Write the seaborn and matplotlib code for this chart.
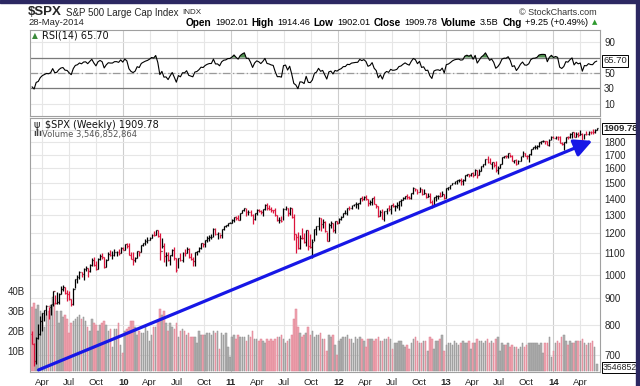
import numpy as np
import pandas as pd
import matplotlib
matplotlib.use("Agg")
import matplotlib.pyplot as plt
import matplotlib.dates as mdates
import matplotlib.transforms as mtrans
import seaborn as sns

warm_close = [1388.28, 1425.35, 1375.93, 1400.38, 1360.68, 1360.03, 1317.93, 1278.38, 1262.90, 1239.49,
              1260.68, 1257.76, 1260.31, 1296.32, 1298.20, 1292.20, 1282.83, 1242.31, 1251.70, 1255.08,
              1213.27, 1099.23, 899.22, 940.55, 876.77, 968.75, 930.99, 873.29, 800.03, 896.24,
              876.07, 879.73, 887.88, 872.80, 931.80, 890.35, 850.12, 831.95, 825.88, 868.60,
              826.84, 770.05]

close09 = [735.09, 683.38, 756.55, 768.54, 815.94, 842.50, 856.56, 869.60, 866.23, 877.52, 929.23, 882.88,
           887.00, 919.14, 940.09, 946.21, 921.23, 918.90, 896.42, 879.13, 940.38, 979.26, 987.48, 1010.48,
           1004.09, 1026.13, 1028.93, 1016.40, 1042.73, 1068.30, 1044.38, 1025.21, 1071.49, 1087.68, 1079.60,
           1036.19, 1069.30, 1093.48, 1091.38, 1091.49, 1105.98, 1106.41, 1102.47, 1126.48, 1115.10]
high09 = [779.4, 739.9, 758.3, 804.5, 832.9, 845.6, 856.6, 875.6, 868.3, 877.6, 930.2, 915.6, 924.6, 920.0,
          951.7, 956.2, 946.0, 934.8, 931.9, 898.6, 943.0, 979.8, 996.7, 1018.0, 1013.1, 1027.6, 1039.5,
          1028.1, 1048.2, 1074.8, 1080.2, 1063.4, 1075.0, 1096.6, 1101.4, 1081.9, 1071.5, 1105.4, 1113.7,
          1112.4, 1119.7, 1110.7, 1117.7, 1130.4, 1130.0]
low09 = [734.5, 666.8, 672.9, 751.0, 766.0, 779.8, 814.5, 836.0, 822.8, 836.3, 872.0, 878.9, 879.6, 880.0,
         917.0, 930.0, 916.1, 888.9, 895.4, 869.3, 875.3, 940.8, 965.8, 982.4, 990.0, 978.5, 1015.0, 991.0,
         1012.6, 1040.0, 1039.5, 1019.0, 1025.2, 1066.0, 1072.0, 1029.4, 1033.4, 1067.0, 1085.0, 1070.0,
         1087.0, 1085.9, 1091.0, 1100.0, 1114.8]
vol09 = [32, 34, 31, 33, 30, 29, 22, 28, 30, 33, 37, 34, 30, 24, 30, 27, 28, 26, 19, 24, 25, 26, 27, 28,
         26, 27, 25, 22, 20, 26, 24, 23, 20, 23, 24, 25, 23, 20, 21, 12, 21, 21, 24, 13, 9]

close10 = [1144.98, 1136.03, 1091.76, 1073.87, 1066.19, 1075.51, 1109.17, 1104.49, 1138.70, 1149.99,
           1159.90, 1166.59, 1178.10, 1194.37, 1192.13, 1217.28, 1186.69, 1110.88, 1135.68, 1087.69,
           1089.41, 1064.88, 1091.60, 1117.51, 1076.76, 1022.58, 1077.96, 1064.88, 1102.66, 1101.60,
           1121.64, 1079.25, 1071.69, 1064.59, 1104.51, 1109.55, 1125.59, 1148.67, 1146.24, 1165.15,
           1176.19, 1183.08, 1183.26, 1225.85, 1199.21, 1199.73, 1189.40, 1224.71, 1240.40, 1243.91,
           1256.77, 1257.64]
high10 = [1145.4, 1150.4, 1150.4, 1103.7, 1104.7, 1080.0, 1112.4, 1112.4, 1139.0, 1150.0, 1169.2, 1180.7,
          1181.4, 1194.7, 1214.0, 1217.3, 1219.8, 1205.0, 1173.6, 1148.7, 1104.0, 1105.7, 1092.0, 1119.0,
          1131.2, 1076.4, 1078.0, 1099.1, 1103.0, 1120.0, 1129.2, 1127.3, 1100.1, 1081.0, 1105.0, 1110.9,
          1131.5, 1148.9, 1151.4, 1167.7, 1184.4, 1189.4, 1196.1, 1227.1, 1227.1, 1207.4, 1198.7, 1225.6,
          1240.5, 1246.7, 1259.3, 1262.6]
low10 = [1115.0, 1127.0, 1090.0, 1071.6, 1044.5, 1056.5, 1075.0, 1086.0, 1105.0, 1135.0, 1141.0, 1152.0,
         1165.0, 1175.0, 1187.0, 1190.0, 1181.0, 1065.8, 1125.0, 1055.9, 1040.8, 1060.0, 1042.2, 1084.0,
         1067.0, 1010.9, 1028.0, 1060.0, 1056.9, 1088.0, 1102.0, 1076.0, 1069.0, 1039.7, 1040.9, 1091.0,
         1107.0, 1122.0, 1131.0, 1131.9, 1155.7, 1159.7, 1171.7, 1181.0, 1194.0, 1173.0, 1176.0, 1174.0,
         1218.0, 1232.0, 1240.0, 1254.0]
vol10 = [20, 21, 22, 25, 25, 22, 18, 20, 19, 19, 22, 20, 15, 18, 22, 22, 25, 31, 28, 30, 24, 20, 24, 22,
         21, 24, 17, 20, 21, 20, 18, 19, 17, 17, 17, 14, 20, 18, 18, 18, 19, 19, 18, 20, 19, 20, 11, 19,
         18, 19, 12, 7]

close11 = [1271.50, 1293.24, 1283.35, 1276.34, 1310.87, 1329.15, 1343.01, 1319.88, 1321.15, 1304.28,
           1279.21, 1313.80, 1332.41, 1328.17, 1319.68, 1337.38, 1363.61, 1340.20, 1337.77, 1333.27,
           1331.10, 1300.16, 1270.98, 1271.50, 1268.45, 1339.67, 1343.80, 1316.14, 1345.02, 1292.28,
           1199.38, 1178.81, 1123.53, 1176.80, 1173.97, 1154.23, 1216.01, 1136.43, 1131.42, 1155.46,
           1224.58, 1238.25, 1285.09, 1253.23, 1263.85, 1215.65, 1158.67, 1244.28, 1255.19, 1219.66,
           1265.33, 1257.60]
high11 = [1278.2, 1293.3, 1296.1, 1302.7, 1311.0, 1330.8, 1344.1, 1342.0, 1332.3, 1330.0, 1305.0, 1315.0,
          1337.8, 1339.5, 1330.0, 1337.5, 1364.6, 1370.6, 1359.4, 1346.8, 1334.0, 1345.2, 1299.6, 1292.5,
          1298.6, 1341.0, 1356.5, 1345.0, 1347.0, 1345.0, 1307.4, 1198.0, 1208.5, 1190.7, 1230.7, 1204.4,
          1220.4, 1220.4, 1195.9, 1171.4, 1224.6, 1238.3, 1292.7, 1285.1, 1277.6, 1266.0, 1208.5, 1255.0,
          1267.1, 1255.0, 1265.4, 1269.4]
low11 = [1257.6, 1262.0, 1271.3, 1275.1, 1276.0, 1311.0, 1323.0, 1294.3, 1302.6, 1294.3, 1249.1, 1275.0,
         1303.0, 1322.0, 1309.0, 1294.7, 1331.0, 1329.2, 1329.0, 1318.5, 1311.8, 1297.0, 1268.0, 1258.1,
         1262.9, 1272.0, 1331.0, 1295.9, 1304.0, 1282.9, 1168.1, 1101.5, 1121.1, 1121.1, 1170.0, 1150.0,
         1136.2, 1114.2, 1127.0, 1074.8, 1163.0, 1191.5, 1221.0, 1215.4, 1226.6, 1209.0, 1158.0, 1158.7,
         1231.0, 1209.5, 1202.4, 1248.6]
vol11 = [17, 18, 16, 18, 17, 17, 17, 15, 18, 17, 20, 16, 16, 15, 16, 15, 14, 16, 15, 16, 15, 16, 17, 17,
         18, 16, 14, 15, 16, 18, 26, 31, 22, 19, 17, 18, 19, 22, 18, 20, 17, 18, 18, 19, 16, 16, 10, 18,
         17, 18, 13, 8]

close12 = [1277.81, 1289.09, 1315.38, 1316.33, 1344.90, 1342.64, 1361.23, 1365.74, 1369.63, 1370.87,
           1404.17, 1397.11, 1408.47, 1398.08, 1370.26, 1378.53, 1403.36, 1369.10, 1353.39, 1295.22,
           1317.82, 1278.04, 1325.66, 1342.84, 1335.02, 1362.16, 1354.68, 1356.78, 1362.66, 1385.97,
           1390.99, 1405.87, 1418.16, 1411.13, 1406.58, 1437.92, 1465.77, 1460.15, 1440.67, 1460.93,
           1428.59, 1433.19, 1411.94, 1414.20, 1379.85, 1359.88, 1409.15, 1416.18, 1418.07, 1413.58,
           1430.15, 1402.43, 1466.47]
high12 = [1284.6, 1296.8, 1315.5, 1333.5, 1345.0, 1354.3, 1363.0, 1368.9, 1378.0, 1372.0, 1405.0, 1414.0,
          1419.1, 1422.4, 1398.1, 1392.0, 1406.0, 1415.3, 1370.0, 1354.6, 1328.5, 1334.9, 1325.8, 1343.3,
          1363.5, 1362.2, 1374.8, 1358.0, 1380.4, 1386.0, 1395.0, 1407.1, 1418.7, 1426.7, 1413.5, 1438.0,
          1474.5, 1465.0, 1463.5, 1470.9, 1464.0, 1464.0, 1434.0, 1434.3, 1433.4, 1389.0, 1409.2, 1419.7,
          1423.7, 1438.6, 1448.0, 1430.0, 1467.9]
low12 = [1257.6, 1274.0, 1290.0, 1306.0, 1300.5, 1333.0, 1340.0, 1354.1, 1343.0, 1340.0, 1370.0, 1386.0,
         1391.6, 1392.0, 1357.4, 1358.8, 1358.8, 1367.0, 1343.1, 1291.9, 1295.7, 1277.0, 1266.7, 1307.0,
         1324.4, 1306.6, 1350.0, 1325.4, 1345.0, 1329.2, 1354.7, 1391.0, 1397.0, 1398.0, 1397.4, 1396.6,
         1429.0, 1449.0, 1430.0, 1440.7, 1425.5, 1430.0, 1403.3, 1410.0, 1373.0, 1343.3, 1359.9, 1385.0,
         1398.0, 1412.0, 1416.0, 1398.1, 1401.0]
vol12 = [15, 16, 17, 17, 18, 16, 16, 14, 17, 16, 17, 16, 15, 12, 16, 16, 16, 15, 16, 17, 15, 15, 16, 16,
         17, 16, 11, 14, 14, 15, 15, 13, 12, 13, 11, 14, 16, 17, 15, 14, 14, 15, 15, 10, 17, 16, 11, 15,
         15, 16, 18, 10, 13]

close13 = [1472.05, 1485.98, 1502.96, 1513.17, 1517.93, 1519.79, 1515.60, 1518.20, 1551.18, 1560.70,
           1556.89, 1569.19, 1553.28, 1588.85, 1555.25, 1582.24, 1614.42, 1633.70, 1667.47, 1649.60,
           1630.74, 1643.38, 1626.73, 1592.43, 1606.28, 1631.89, 1680.19, 1692.09, 1691.65, 1709.67,
           1691.42, 1655.83, 1663.50, 1632.97, 1655.17, 1687.99, 1709.91, 1691.75, 1690.50, 1703.20,
           1744.50, 1759.77, 1761.64, 1770.61, 1798.18, 1804.76, 1805.81, 1805.09, 1775.32, 1818.32,
           1841.40, 1831.37]
high13 = [1473.0, 1486.0, 1503.3, 1514.0, 1518.3, 1524.7, 1530.9, 1525.3, 1552.5, 1563.6, 1563.0, 1570.0,
          1573.7, 1597.4, 1589.0, 1597.6, 1618.5, 1635.0, 1667.5, 1687.2, 1674.2, 1646.5, 1648.7, 1654.2,
          1615.9, 1632.0, 1680.2, 1693.1, 1698.8, 1709.7, 1709.2, 1696.8, 1664.0, 1669.0, 1664.0, 1689.0,
          1729.9, 1711.0, 1696.6, 1703.4, 1745.3, 1759.8, 1775.2, 1774.5, 1798.2, 1804.8, 1813.6, 1810.0,
          1809.3, 1823.8, 1844.9, 1849.4]
low13 = [1451.6, 1463.0, 1485.0, 1495.0, 1495.0, 1510.0, 1485.0, 1485.0, 1512.0, 1547.0, 1538.6, 1546.0,
         1539.5, 1552.0, 1536.0, 1555.3, 1581.0, 1613.0, 1626.7, 1635.5, 1630.7, 1598.2, 1608.1, 1577.7,
         1560.3, 1604.6, 1631.0, 1675.0, 1676.0, 1679.0, 1684.0, 1654.0, 1639.4, 1627.5, 1633.4, 1655.2,
         1686.0, 1687.0, 1670.4, 1646.5, 1696.6, 1740.5, 1746.0, 1746.2, 1760.6, 1780.0, 1800.0, 1779.1,
         1772.3, 1767.9, 1818.0, 1827.7]
vol13 = [14, 14, 13, 15, 14, 13, 14, 15, 14, 14, 15, 11, 14, 14, 16, 15, 15, 14, 15, 16, 14, 15, 14, 16,
         17, 10, 14, 13, 13, 14, 12, 13, 12, 12, 11, 12, 14, 12, 13, 14, 14, 14, 14, 14, 13, 14, 9, 14,
         14, 17, 7, 10]

close14 = [1842.37, 1838.70, 1790.29, 1782.59, 1797.02, 1838.63, 1836.25, 1859.45, 1878.04, 1841.13,
           1866.52, 1857.62, 1865.09, 1815.69, 1864.85, 1863.40, 1883.95, 1878.48, 1877.86, 1900.53, 1909.78]
high14 = [1843.0, 1850.8, 1849.3, 1798.8, 1798.0, 1840.8, 1847.5, 1867.9, 1883.6, 1878.3, 1883.9, 1884.0,
          1897.3, 1872.5, 1865.0, 1884.9, 1891.3, 1889.1, 1902.2, 1901.3, 1914.5]
low14 = [1823.7, 1815.5, 1790.0, 1772.3, 1737.9, 1792.0, 1824.6, 1832.0, 1834.4, 1839.6, 1839.5, 1839.6,
         1858.0, 1814.4, 1820.7, 1859.0, 1851.0, 1859.8, 1862.4, 1868.1, 1900.0]
vol14 = [14, 15, 14, 17, 18, 15, 13, 15, 14, 14, 15, 15, 15, 16, 14, 13, 14, 14, 15, 12, 3.5]

price_ticks = [700, 800, 900, 1000, 1100, 1200, 1300, 1400, 1500, 1600, 1700, 1800]
price_grid = price_ticks + [1900]
rsi_ticks = [90, 50, 30, 10]
rsi_grid = [10, 30, 50, 70, 90]
vol_ticks = [10e9, 20e9, 30e9, 40e9]
vol_tick_labels = ["10B", "20B", "30B", "40B"]
trend_start = ("2009-03-19", 656)
trend_end = ("2014-05-13", 1808)
last_rsi_label = 65.70

# ---------------- prepare ----------------
close = np.array(close09 + close10 + close11 + close12 + close13 + close14)
high = np.array(high09 + high10 + high11 + high12 + high13 + high14)
low = np.array(low09 + low10 + low11 + low12 + low13 + low14)
vol = np.array(vol09 + vol10 + vol11 + vol12 + vol13 + vol14) * 1e9
n = len(close)
assert len(high) == n and len(low) == n and len(vol) == n, (len(close), len(high), len(low), len(vol))

dates = pd.date_range("2009-02-25", periods=n, freq="7D")
xn = mdates.date2num(dates)
prev_close = np.r_[warm_close[-1], close[:-1]]
open_ = prev_close
up = close >= prev_close

allc = pd.Series(np.r_[warm_close, close])
d = allc.diff()
ag = d.clip(lower=0).ewm(alpha=1 / 14, adjust=False).mean()
al = (-d).clip(lower=0).ewm(alpha=1 / 14, adjust=False).mean()
rsi = (100 - 100 / (1 + ag / al)).values[len(warm_close):]
rsi_df = pd.DataFrame({"date": dates, "rsi": rsi})

# ---------------- figure ----------------
sns.set_theme(style="white")
plt.rcParams["font.family"] = ["Liberation Sans", "DejaVu Sans"]
W, H = 640, 386
fig = plt.figure(figsize=(6.4, 3.86), dpi=100)
fig.patch.set_facecolor("white")


def rect(l, t, r, b):
    return [l / W, 1 - b / H, (r - l) / W, (b - t) / H]


X0 = mdates.date2num(pd.Timestamp("2009-02-18"))
X1 = mdates.date2num(pd.Timestamp("2014-06-08"))
qdates = pd.date_range("2009-04-01", "2014-04-01", freq="QS")
qn = mdates.date2num(qdates)
qlabels = [f"{q.year % 100:02d}" if q.month == 1 else q.strftime("%b") for q in qdates]
GRID = "#e6e6e6"
GRID_Y = "#cdcdcd"
SPINE = "#a0a0a0"
TAG = dict(boxstyle="square,pad=0.12", fc="white", ec="black", lw=0.7)

# ---- RSI panel ----
ax_r = fig.add_axes(rect(30, 30, 600, 116))
for q, lab in zip(qn, qlabels):
    ax_r.axvline(q, color=GRID_Y if lab.isdigit() else GRID, lw=0.8, zorder=0)
for v in rsi_grid:
    ax_r.axhline(v, color=GRID, lw=0.8, zorder=0)
ax_r.axhline(70, color="#7a7a7a", lw=0.9, zorder=1)
ax_r.axhline(30, color="#7a7a7a", lw=0.9, zorder=1)
ax_r.axhline(50, color="#9a9a9a", lw=0.9, ls=(0, (6, 2, 1, 2)), zorder=1)
ax_r.fill_between(xn, rsi, 70, where=rsi > 70, interpolate=True, color="#4f8f4f", lw=0, zorder=2)
sns.lineplot(data=rsi_df, x="date", y="rsi", ax=ax_r, color="black", lw=0.8, zorder=3)
ax_r.set_xlim(X0, X1)
ax_r.set_ylim(-5.7, 105.7)
ax_r.set_xlabel("")
ax_r.set_ylabel("")
ax_r.set_xticks([])
ax_r.yaxis.tick_right()
ax_r.set_yticks(rsi_ticks)
ax_r.set_yticklabels([str(v) for v in rsi_ticks])
ax_r.tick_params(axis="y", length=0, pad=3, labelsize=7)
for s in ax_r.spines.values():
    s.set_color(SPINE)
    s.set_linewidth(0.8)
ax_r.text(12 / 570, 1 - 6 / 86, "RSI(14) 65.70", transform=ax_r.transAxes,
          fontsize=7, family="DejaVu Sans", va="center", ha="left", color="#111111")
ax_r.text(0.004, 1 - 6 / 86, "\u25B2", transform=ax_r.transAxes, fontsize=5.5, family="DejaVu Sans",
          color="#3a8a3a", va="center", ha="left")

blend_r = mtrans.blended_transform_factory(ax_r.transAxes, ax_r.transData)
ax_r.text(1.0 + 3 / 570, last_rsi_label, f"{last_rsi_label:.2f}", transform=blend_r, fontsize=6.8,
          va="center", ha="left", clip_on=False, zorder=10, bbox=TAG)

# ---- price / volume panel ----
rect_p = rect(30, 118, 600, 372)
ax_g = fig.add_axes(rect_p)
ax_g.set_yscale("log")
ax_g.set_xlim(X0, X1)
ax_g.set_ylim(650, 2000)
for q, lab in zip(qn, qlabels):
    ax_g.axvline(q, color=GRID_Y if lab.isdigit() else GRID, lw=0.8, zorder=0)
for p in price_grid:
    ax_g.axhline(p, color=GRID, lw=0.8, zorder=0)
ax_g.set_xticks([])
ax_g.set_yticks([])
ax_g.minorticks_off()
for s in ax_g.spines.values():
    s.set_visible(False)
ax_g.set_zorder(0)

ax_v = fig.add_axes(rect_p)
ax_v.patch.set_visible(False)
ax_v.set_zorder(1)
ax_v.bar(xn, vol, width=5.2, color=np.where(up, "#b2b2b2", "#f0a6b2"),
         edgecolor=np.where(up, "#8f8f8f", "#de7f90"), linewidth=0.35)
ax_v.set_xlim(X0, X1)
ax_v.set_ylim(-0.4e9, 126.9e9)
ax_v.set_yticks(vol_ticks)
ax_v.set_yticklabels(vol_tick_labels)
ax_v.tick_params(axis="y", length=0, pad=4, labelsize=7)
ax_v.set_xticks(qn)
ax_v.set_xticklabels(qlabels)
ax_v.tick_params(axis="x", length=0, pad=4, labelsize=6.8)
for t in ax_v.get_xticklabels():
    if t.get_text().isdigit():
        t.set_fontweight("bold")
for s in ax_v.spines.values():
    s.set_color(SPINE)
    s.set_linewidth(0.8)

ax_p = ax_v.twinx()
ax_p.set_zorder(2)
ax_p.patch.set_visible(False)
ax_p.set_yscale("log")
cols = np.where(up, "black", "#dc143c")
ax_p.vlines(xn, low, high, colors=cols, lw=0.9)
ax_p.hlines(open_, xn - 3, xn, colors=cols, lw=0.9)
ax_p.hlines(close, xn, xn + 3, colors=cols, lw=0.9)
ax_p.set_xlim(X0, X1)
ax_p.set_ylim(650, 2000)
ax_p.set_yticks(price_ticks)
ax_p.set_yticklabels([str(v) for v in price_ticks])
ax_p.minorticks_off()
ax_p.tick_params(axis="y", length=0, pad=3, labelsize=7)
for s in ax_p.spines.values():
    s.set_visible(False)

ax_p.annotate("", xy=(mdates.date2num(pd.Timestamp(trend_end[0])), trend_end[1]),
              xytext=(mdates.date2num(pd.Timestamp(trend_start[0])), trend_start[1]),
              arrowprops=dict(arrowstyle="-|>,head_length=0.9,head_width=0.45", color="#1717e6",
                              lw=2.3, shrinkA=0, shrinkB=0), zorder=5)

blend_p = mtrans.blended_transform_factory(ax_p.transAxes, ax_p.transData)
ax_p.text(1.0 + 3 / 570, close[-1], f"{close[-1]:.2f}", transform=blend_p, fontsize=6.8,
          fontweight="bold", va="center", ha="left", clip_on=False, zorder=10, bbox=TAG)
blend_v = mtrans.blended_transform_factory(ax_v.transAxes, ax_v.transData)
ax_v.text(1.0 + 3 / 570, vol[-1] - 1.5e9, "3546852", transform=blend_v, fontsize=6.3,
          va="center", ha="left", clip_on=False, zorder=10, bbox=TAG)

ax_p.text(3 / 570, 1 - 7 / 254, "\u03c8", transform=ax_p.transAxes, fontsize=7, family="DejaVu Sans",
          va="center", ha="left", color="#222222")
ax_p.text(15 / 570, 1 - 7 / 254, "$SPX (Weekly) 1909.78", transform=ax_p.transAxes, fontsize=7,
          family="DejaVu Sans", va="center", ha="left", color="#111111")
ax_p.text(3 / 570, 1 - 16 / 254, "\u0131l\u0131", transform=ax_p.transAxes, fontsize=6,
          family="DejaVu Sans", va="center", ha="left", color="#444444", fontweight="bold")
ax_p.text(12 / 570, 1 - 16 / 254, "Volume 3,546,852,864", transform=ax_p.transAxes, fontsize=6,
          family="DejaVu Sans", va="center", ha="left", color="#555555")

# ---------------- header ----------------
renderer = fig.canvas.get_renderer()


def fy(y):
    return 1 - y / H


def runs(x_right, y, items, gap=3.5):
    texts = []
    for txt, kw in items:
        texts.append(fig.text(0, fy(y), txt, va="center", ha="left", **kw))
    widths = [t.get_window_extent(renderer).width for t in texts]
    total = sum(widths) + gap * (len(texts) - 1)
    x = x_right - total
    for t, w in zip(texts, widths):
        t.set_x(x / W)
        x += w + gap


bold = dict(fontsize=7.2, fontweight="bold", color="black")
num = dict(fontsize=6.6, color="black")
runs(597, 22.5, [("Open", bold), ("1902.01", num), ("High", bold), ("1914.46", num),
                 ("Low", bold), ("1902.01", num), ("Close", bold), ("1909.78", num),
                 ("Volume", bold), ("3.5B", num), ("Chg", bold), ("+9.25 (+0.49%)", num),
                 ("\u25B2", dict(fontsize=5, color="#2e9a2e", family="DejaVu Sans"))])

t1 = fig.text(28 / W, fy(12), "$SPX", fontsize=9.5, fontweight="bold", va="center", ha="left")
w1 = t1.get_window_extent(renderer).width
t2 = fig.text((28 + w1 + 4) / W, fy(12.5), "S&P 500 Large Cap Index", fontsize=7, va="center", ha="left")
w2 = t2.get_window_extent(renderer).width
fig.text((28 + w1 + 4 + w2 + 4) / W, fy(12.8), "INDX", fontsize=5.8, va="center", ha="left")
fig.text(597 / W, fy(12.5), "\u00a9 StockCharts.com", fontsize=6.5, va="center", ha="right", color="#333333")
fig.text(28 / W, fy(22.5), "28-May-2014", fontsize=6.8, va="center", ha="left")

# frame strips
fig.patches.append(plt.Rectangle((0, 1 - 2.5 / H), 1, 2.5 / H, transform=fig.transFigure,
                                 color="#2c2862", zorder=20))
fig.patches.append(plt.Rectangle((1 - 4 / W, 0), 4 / W, 1, transform=fig.transFigure,
                                 color="#2c2862", zorder=20))

fig.savefig("out.png", dpi=100, facecolor="white")
